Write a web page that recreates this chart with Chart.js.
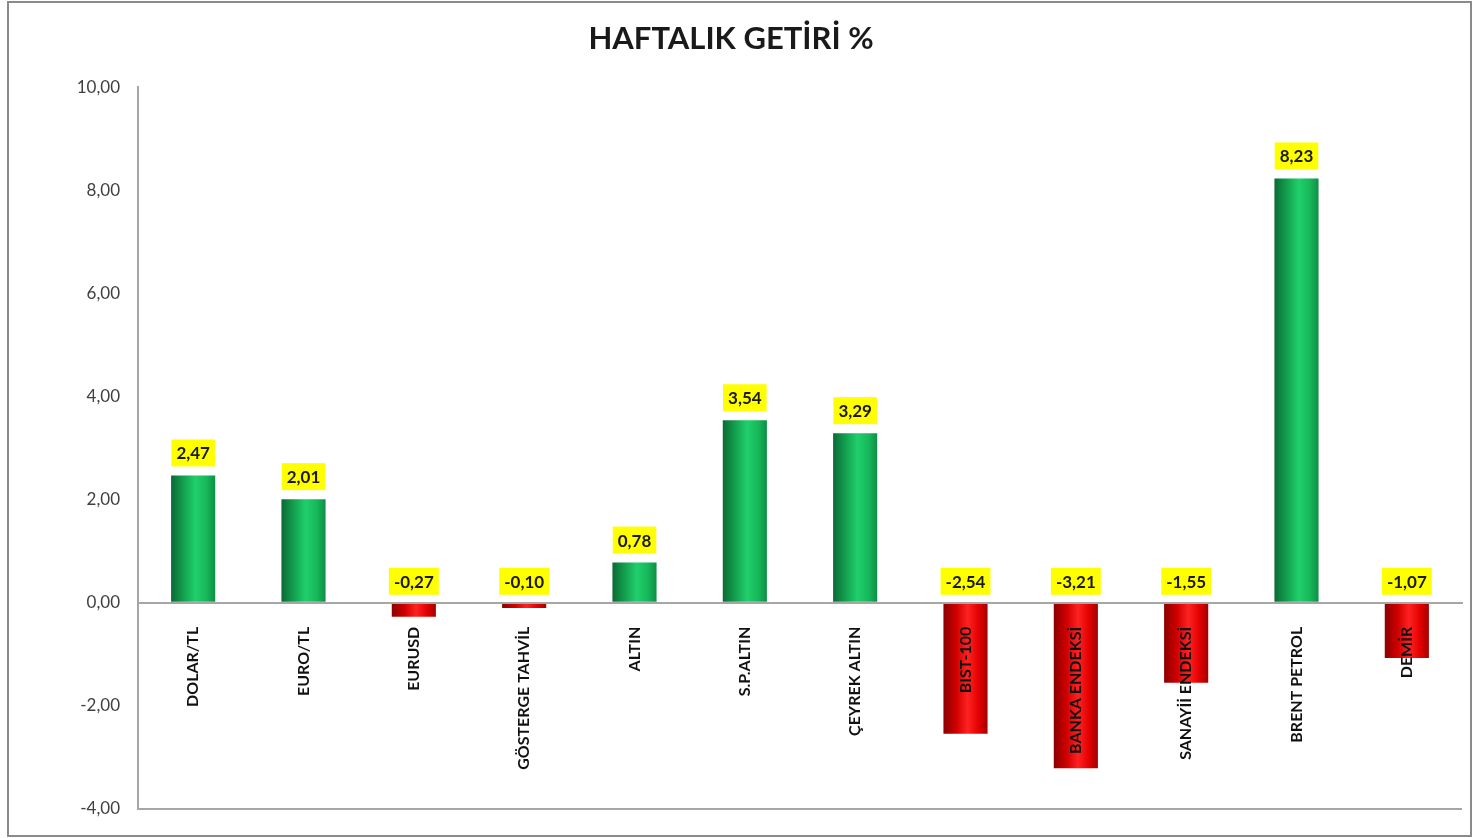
<!DOCTYPE html>
<html>
<head>
<meta charset="utf-8">
<script src="https://cdn.jsdelivr.net/npm/chart.js@4/dist/chart.umd.min.js"></script>
<style>
    html, body { margin: 0; padding: 0; background: #fff; }
    #wrap { position: relative; width: 1483px; height: 838px; }
    #frame {
        position: absolute; left: 7px; top: 1px; width: 1461px; height: 832px;
        border: 2px solid #8a8a8a; pointer-events: none;
    }
</style>
</head>
<body>
<div id="wrap">
    <canvas id="getiriChart" width="1483" height="838"></canvas>
    <div id="frame"></div>
</div>
<script>
const categories = ['DOLAR/TL', 'EURO/TL', 'EURUSD', 'GÖSTERGE TAHVİL', 'ALTIN', 'S.P.ALTIN',
    'ÇEYREK ALTIN', 'BIST-100', 'BANKA ENDEKSİ', 'SANAYİİ ENDEKSİ', 'BRENT PETROL', 'DEMİR'];
const weeklyReturns = [2.47, 2.01, -0.27, -0.10, 0.78, 3.54, 3.29, -2.54, -3.21, -1.55, 8.23, -1.07];
const yTicks = [-4, -2, 0, 2, 4, 6, 8, 10];

const fmt = v => v.toFixed(2).replace('.', ',');

// Bar fill: horizontal gradient, lighter in the middle (Excel-ish look)
const barFill = (ctx) => {
    const chart = ctx.chart;
    const value = weeklyReturns[ctx.dataIndex];
    const solid = value >= 0 ? '#16a552' : '#e60000';
    const xScale = chart.scales.x;
    if (!chart.chartArea || !xScale) return solid;
    const cx = xScale.getPixelForValue(ctx.dataIndex);
    const w = (chart.chartArea.width / categories.length) * 0.4;
    const g = chart.ctx.createLinearGradient(cx - w / 2, 0, cx + w / 2, 0);
    if (value >= 0) {
        g.addColorStop(0, '#0b6a34');
        g.addColorStop(0.25, '#129a4c');
        g.addColorStop(0.55, '#20cf6b');
        g.addColorStop(0.8, '#17b85a');
        g.addColorStop(1, '#0f8e46');
    } else {
        g.addColorStop(0, '#8c0000');
        g.addColorStop(0.3, '#d20000');
        g.addColorStop(0.55, '#ff2222');
        g.addColorStop(0.8, '#e20000');
        g.addColorStop(1, '#a30000');
    }
    return g;
};

// Yellow value boxes above each bar
const valueLabels = {
    id: 'valueLabels',
    afterDatasetsDraw(chart) {
        const ctx = chart.ctx;
        const meta = chart.getDatasetMeta(0);
        ctx.save();
        ctx.font = 'bold 17px Lato';
        ctx.textAlign = 'center';
        ctx.textBaseline = 'middle';
        meta.data.forEach((bar, i) => {
            const top = Math.min(bar.y, bar.base);
            const text = fmt(weeklyReturns[i]);
            const boxW = ctx.measureText(text).width + 10;
            const boxH = 27;
            const bottom = top - 9;
            ctx.fillStyle = '#ffff00';
            ctx.fillRect(bar.x - boxW / 2, bottom - boxH, boxW, boxH);
            ctx.fillStyle = '#1a1a1a';
            ctx.fillText(text, bar.x, bottom - boxH / 2 + 1);
        });
        ctx.restore();
    }
};

document.addEventListener('DOMContentLoaded', () => {
    const ctx = document.getElementById('getiriChart').getContext('2d');
    new Chart(ctx, {
        type: 'bar',
        data: {
            labels: categories,
            datasets: [{
                data: weeklyReturns,
                backgroundColor: barFill,
                borderWidth: 0,
                barPercentage: 0.4,
                categoryPercentage: 1
            }]
        },
        options: {
            responsive: false,
            animation: false,
            layout: { padding: { left: 0, right: 21, top: 0, bottom: 29 } },
            plugins: {
                legend: { display: false },
                tooltip: { enabled: false },
                title: {
                    display: true,
                    text: 'HAFTALIK GETİRİ %',
                    color: '#1a1a1a',
                    font: { family: 'Lato', size: 31, weight: 'bold' },
                    padding: { top: 20, bottom: 30 }
                }
            },
            scales: {
                x: {
                    position: { y: 0 },
                    grid: { display: false, drawTicks: false },
                    border: { display: true, color: '#a6a6a6', width: 2, z: 1 },
                    ticks: {
                        z: 1,
                        autoSkip: false,
                        minRotation: 90,
                        maxRotation: 90,
                        padding: 24,
                        color: '#111',
                        font: { family: 'Lato', size: 16, weight: 'bold' }
                    }
                },
                y: {
                    min: -4,
                    max: 10,
                    afterBuildTicks: (scale) => { scale.ticks = yTicks.map(v => ({ value: v })); },
                    afterFit: (scale) => { scale.width = 138; },
                    grid: {
                        drawTicks: false,
                        color: (c) => c.tick && c.tick.value === -4 ? '#a6a6a6' : 'transparent',
                        lineWidth: 2
                    },
                    border: { display: true, color: '#a6a6a6', width: 2 },
                    ticks: {
                        padding: 18,
                        color: '#404040',
                        font: { family: 'Lato', size: 17 },
                        callback: (v) => fmt(v)
                    }
                }
            }
        },
        plugins: [valueLabels]
    });
});
</script>
</body>
</html>
